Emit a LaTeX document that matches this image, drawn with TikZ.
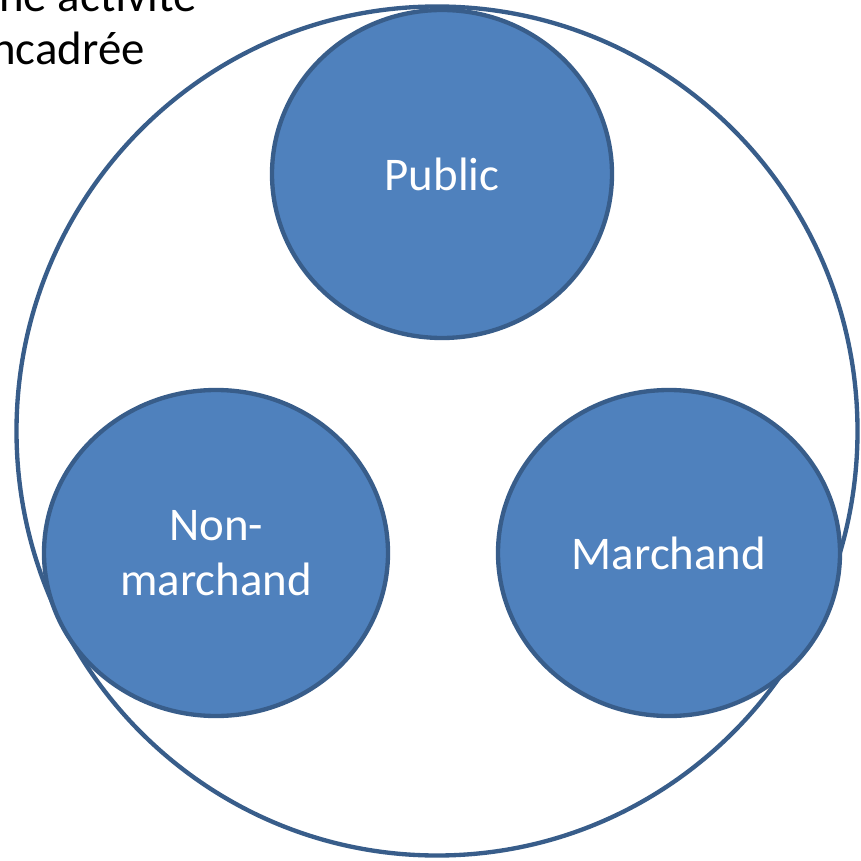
\documentclass[tikz,border=0pt]{standalone}
\usepackage{fontspec}
\setmainfont{Carlito}
\usetikzlibrary{shapes.geometric}
\definecolor{sectorfill}{HTML}{4F81BD}
\definecolor{sectorline}{HTML}{385D8A}
\tikzset{
  sector/.style={ellipse, draw=sectorline, fill=sectorfill, line width=1.3mm,
    inner sep=0pt, text=white, align=center, font=\fontsize{40}{47}\selectfont},
  caption/.style={anchor=base west, inner sep=0pt, font=\fontsize{40}{45}\selectfont}
}
\begin{document}
\begin{tikzpicture}[x=0.3mm, y=-0.3mm]
  \useasboundingbox (0,0) rectangle (860,861);
  \clip (0,0) rectangle (860,861);
  \fill[white] (0,0) rectangle (860,861);

  % cut-off title
  \node[caption] (titleone) at (-1,12) {ne activité};
  \node[caption] (titletwo) at (-9,65) {ncadrée};

  % whole economy
  \node[ellipse, draw=sectorline, line width=1.3mm, inner sep=0pt,
    minimum width=252.3mm, minimum height=254.7mm] (economy) at (437,431) {};

  % sectors
  \node[sector, minimum width=102mm, minimum height=98.4mm] (public) at (442,174) {Public};
  \node[sector, minimum width=103.2mm, minimum height=97.8mm] (nonmarket) at (216,553) {Non-\\marchand};
  \node[sector, minimum width=102.6mm, minimum height=97.8mm] (market) at (669,553) {Marchand};
\end{tikzpicture}
\end{document}
